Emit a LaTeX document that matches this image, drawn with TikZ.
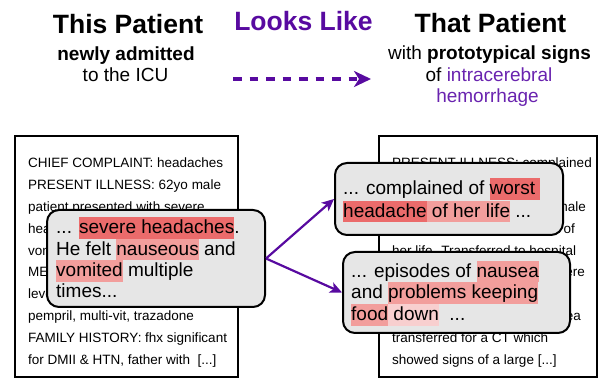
\documentclass[tikz,border=0pt]{standalone}
\usepackage{fontspec}
\setmainfont{Liberation Sans}
\usetikzlibrary{arrows.meta}
\definecolor{pur}{RGB}{88,10,160}
\definecolor{purtext}{RGB}{105,35,175}
\definecolor{hlA}{HTML}{EB6B6B}
\definecolor{hlB}{HTML}{F29E9C}
\definecolor{hlC}{HTML}{F8CFCF}
\definecolor{boxfill}{HTML}{E6E6E6}
\newcommand{\hlw}[2]{{\setlength{\fboxsep}{0pt}\colorbox{#1}{\rule[-5pt]{0pt}{21.5pt}#2}}}
\begin{document}
\begin{tikzpicture}[x=1pt,y=-1pt,
  doctext/.style={anchor=base west, inner sep=0pt, font=\fontsize{13.5}{16}\selectfont},
  doctextr/.style={anchor=base east, inner sep=0pt, font=\fontsize{13.5}{16}\selectfont},
  poptext/.style={anchor=base west, inner sep=0pt, font=\fontsize{19}{21}\selectfont},
  title/.style={anchor=base, inner sep=0pt, font=\fontsize{26.5}{30}\selectfont\bfseries},
  subtitle/.style={anchor=base, inner sep=0pt, font=\fontsize{19}{22}\selectfont},
  docbox/.style={draw, line width=2pt, fill=white, inner sep=0pt},
  callout/.style={draw, line width=2pt, fill=boxfill, rounded corners=12pt, inner sep=0pt},
  link/.style={pur, line width=2.2pt, -{Stealth[length=12pt,width=11pt,inset=3pt]}}
]
\useasboundingbox (0,0) rectangle (600,379);

% ---------- header ----------
\node[title] (t1) at (128,34) {This Patient};
\node[subtitle, font=\fontsize{19}{22}\selectfont\bfseries] (t2) at (126,61) {newly admitted};
\node[subtitle] (t3) at (125.5,82) {to the ICU};
\node[title, text=pur] (t4) at (303.5,31) {Looks Like};
\node[title] (t5) at (490.5,33) {That Patient};
\node[subtitle] (t6) at (489.5,60) {with \textbf{prototypical signs}};
\node[subtitle] (t7) at (489,82) {of {\color{purtext}intracerebral}};
\node[subtitle, text=purtext] (t8) at (487.5,103) {hemorrhage};
\coordinate (da) at (233,79);
\coordinate (db) at (371,79);
\draw[pur, line width=3.6pt, dash pattern=on 8.5pt off 8pt,
      -{Stealth[length=17pt,width=16pt,inset=5pt]}] (da) -- (db);

% ---------- left document ----------
\node[docbox, minimum width=223pt, minimum height=241pt] (doc1) at (126.5,256.5) {};
\node[doctext] (l1) at (28,168) {CHIEF COMPLAINT: headaches};
\node[doctext] (l2) at (28,189.8) {PRESENT ILLNESS: 62yo male};
\node[doctext] (l3) at (28,211.6) {patient presented with severe};
\node[doctext] (l4) at (28,233.4) {headaches. He felt nauseous and};
\node[doctext] (l5) at (28,255.2) {vomited multiple times.};
\node[doctext] (l6) at (28,277) {MEDICATIONS: lisinopril,};
\node[doctext] (l7) at (28,298.8) {levothyroxine, simvastatin,};
\node[doctext] (l8) at (28,320.6) {pempril, multi-vit, trazadone};
\node[doctext] (l9) at (28,342.4) {FAMILY HISTORY: fhx significant};
\node[doctext] (l10) at (28,364.2) {for DMII \& HTN, father with\ \ [...]};

% ---------- right document ----------
\node[docbox, minimum width=218pt, minimum height=241pt] (doc2) at (488,256.5) {};
\node[doctext] (r1) at (392,168) {PRESENT ILLNESS: complained};
\node[doctext] (r2) at (392,189.8) {of severe headache};
\node[doctextr] (r3) at (586,211.6) {A 45yo female};
\node[doctextr] (r4) at (575,233.4) {patient presented with onset of};
\node[doctext] (r5) at (392,255.2) {her life. Transferred to hospital};
\node[doctextr] (r6) at (585,277) {at home where};
\node[doctext] (r7) at (392,298.8) {she was found};
\node[doctextr] (r8) at (581,320.6) {with vomiting and nausea};
\node[doctext] (r9) at (392,342.4) {transferred for a CT which};
\node[doctext] (r10) at (392,364.2) {showed signs of a large [...]};

% ---------- callouts ----------
\node[callout, minimum width=218pt, minimum height=97pt] (pop) at (156,258.5) {};
\node[poptext] (p1) at (56,234) {... \hlw{hlA}{severe headaches}.};
\node[poptext] (p2) at (56,255.3) {He felt \hlw{hlB}{nauseous} and};
\node[poptext] (p3) at (56,276.7) {\hlw{hlB}{vomited} multiple};
\node[poptext] (p4) at (56,298) {times...};

\node[callout, minimum width=228pt, minimum height=72pt] (boxA) at (449,199) {};
\node[poptext] (a1) at (343,195) {... complained of \hlw{hlA}{worst }};
\node[poptext] (a2) at (343,217.3) {\hlw{hlA}{headache}\hlw{hlB}{\ of her life} ...};

\node[callout, minimum width=227pt, minimum height=81pt] (boxB) at (456.5,292.5) {};
\node[poptext] (b1) at (351,277.3) {... episodes of \hlw{hlB}{nausea}};
\node[poptext] (b2) at (351,299) {and \hlw{hlB}{problems keeping}};
\node[poptext] (b3) at (351,320.7) {\hlw{hlB}{food}\hlw{hlC}{\ down}\ \ ...};

% ---------- connectors ----------
\draw[link] (pop.east) -- (boxA.west);
\draw[link] (pop.east) -- (boxB.west);
\end{tikzpicture}
\end{document}
